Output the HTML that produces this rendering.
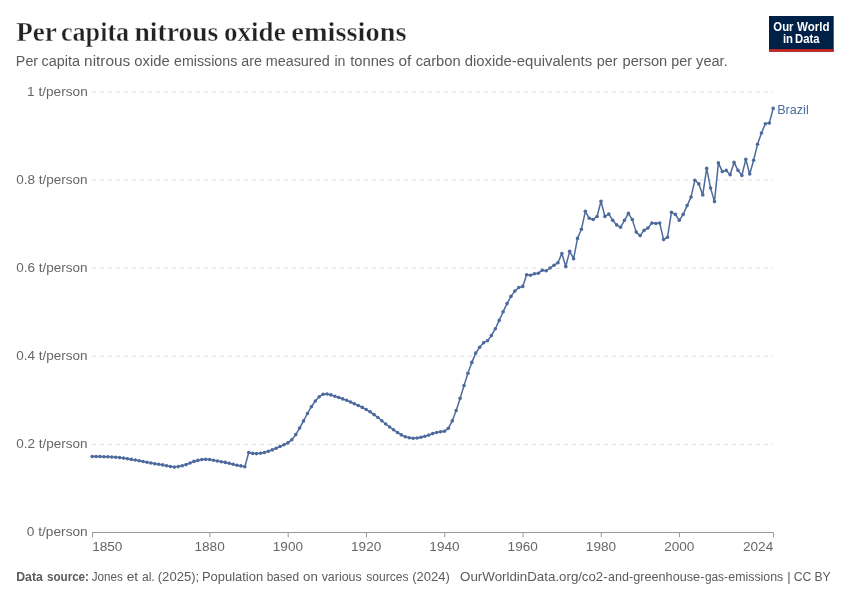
<!DOCTYPE html>
<html lang="en"><head><meta charset="utf-8"><title>Per capita nitrous oxide emissions</title>
<style>
html,body{margin:0;padding:0;background:#fff;}
body{width:850px;height:600px;overflow:hidden;}
svg{display:block;}
text{font-family:"Liberation Sans",sans-serif;}
.title{font-family:"Liberation Serif",serif;font-weight:bold;font-size:28px;fill:#222;stroke:#fff;stroke-width:0.4px;}
.sub{font-size:14px;fill:#5b5b5b;}
.foot{font-size:13px;fill:#5b5b5b;}
.b{font-weight:bold;}
.ax{font-size:13px;fill:#666;}
.lg{font-size:12.1px;font-weight:bold;fill:#fff;}
.ent{font-size:12.9px;fill:#4c6a9c;}
.grid line{stroke:#ddd;stroke-width:1;stroke-dasharray:4 4;}
.ticks line{stroke:#999;stroke-width:1;}
</style></head><body>
<svg width="850" height="600" viewBox="0 0 850 600" role="img" aria-label="Per capita nitrous oxide emissions, Brazil, 1850 to 2024">
<rect width="850" height="600" fill="#fff"/>
<rect x="769" y="16" width="64.7" height="35.7" fill="#002147"/>
<rect x="769" y="49.1" width="64.7" height="2.6" fill="#ce261e"/>
<g class="grid"><line x1="92" x2="773" y1="444.32" y2="444.32"/><line x1="92" x2="773" y1="356.23" y2="356.23"/><line x1="92" x2="773" y1="268.14" y2="268.14"/><line x1="92" x2="773" y1="180.05" y2="180.05"/><line x1="92" x2="773" y1="91.96" y2="91.96"/></g>
<g class="ticks"><line x1="92" x2="773.5" y1="532.5" y2="532.5"/><line x1="92.50" x2="92.50" y1="532.5" y2="537.4"/><line x1="209.91" x2="209.91" y1="532.5" y2="537.4"/><line x1="288.19" x2="288.19" y1="532.5" y2="537.4"/><line x1="366.47" x2="366.47" y1="532.5" y2="537.4"/><line x1="444.74" x2="444.74" y1="532.5" y2="537.4"/><line x1="523.02" x2="523.02" y1="532.5" y2="537.4"/><line x1="601.29" x2="601.29" y1="532.5" y2="537.4"/><line x1="679.57" x2="679.57" y1="532.5" y2="537.4"/><line x1="773.50" x2="773.50" y1="532.5" y2="537.4"/></g>
<g class="series">
<path d="M92.20,456.50 L96.11,456.50 L100.03,456.55 L103.94,456.70 L107.86,456.80 L111.77,457.00 L115.68,457.30 L119.60,457.60 L123.51,458.10 L127.42,458.70 L131.34,459.40 L135.25,460.00 L139.17,460.75 L143.08,461.50 L146.99,462.20 L150.91,463.00 L154.82,463.70 L158.73,464.30 L162.65,464.90 L166.56,465.80 L170.48,466.50 L174.39,467.10 L178.30,466.60 L182.22,465.70 L186.13,464.60 L190.04,463.00 L193.96,461.40 L197.87,460.40 L201.79,459.50 L205.70,459.20 L209.61,459.50 L213.53,460.20 L217.44,461.00 L221.36,461.70 L225.27,462.40 L229.18,463.20 L233.10,464.30 L237.01,465.20 L240.92,465.90 L244.84,466.80 L248.75,452.50 L252.67,453.40 L256.58,453.60 L260.49,453.30 L264.41,452.50 L268.32,451.30 L272.23,449.90 L276.15,448.20 L280.06,446.50 L283.98,444.70 L287.89,442.90 L291.80,439.70 L295.72,434.60 L299.63,428.10 L303.54,420.90 L307.46,413.50 L311.37,406.70 L315.29,401.00 L319.20,396.70 L323.11,394.20 L327.03,394.00 L330.94,394.90 L334.86,396.20 L338.77,397.50 L342.68,398.90 L346.60,400.30 L350.51,402.00 L354.42,403.70 L358.34,405.50 L362.25,407.40 L366.17,409.50 L370.08,411.80 L373.99,414.60 L377.91,417.50 L381.82,420.80 L385.73,424.00 L389.65,427.00 L393.56,429.80 L397.48,432.50 L401.39,434.90 L405.30,436.70 L409.22,437.70 L413.13,438.20 L417.04,438.00 L420.96,437.20 L424.87,436.30 L428.79,435.10 L432.70,433.60 L436.61,432.50 L440.53,431.80 L444.44,431.20 L448.36,428.30 L452.27,420.90 L456.18,410.50 L460.10,398.40 L464.01,385.60 L467.92,373.30 L471.84,362.40 L475.75,353.10 L479.67,347.20 L483.58,342.70 L487.49,340.70 L491.41,335.60 L495.32,328.70 L499.23,320.40 L503.15,311.70 L507.06,303.60 L510.98,296.40 L514.89,291.10 L518.80,287.50 L522.72,286.40 L526.63,274.70 L530.54,275.20 L534.46,273.70 L538.37,273.20 L542.29,270.30 L546.20,270.70 L550.11,268.00 L554.03,265.30 L557.94,262.70 L561.86,253.50 L565.77,266.40 L569.68,251.30 L573.60,258.70 L577.51,238.40 L581.42,229.30 L585.34,211.30 L589.25,218.30 L593.17,219.50 L597.08,216.50 L600.99,201.30 L604.91,216.40 L608.82,214.10 L612.73,220.30 L616.65,224.90 L620.56,227.30 L624.48,220.30 L628.39,213.40 L632.30,219.60 L636.22,232.10 L640.13,235.60 L644.04,230.40 L647.96,228.00 L651.87,223.10 L655.79,223.50 L659.70,223.10 L663.61,239.60 L667.53,237.20 L671.44,212.30 L675.36,214.40 L679.27,220.30 L683.18,214.40 L687.10,205.60 L691.01,197.10 L694.92,180.20 L698.84,183.90 L702.75,194.90 L706.67,168.40 L710.58,188.10 L714.49,201.60 L718.41,162.90 L722.32,171.60 L726.23,170.40 L730.15,174.70 L734.06,162.40 L737.98,170.30 L741.89,175.50 L745.80,159.40 L749.72,174.00 L753.63,160.20 L757.54,144.30 L761.46,133.00 L765.37,123.70 L769.29,123.10 L773.20,108.40" fill="none" stroke="#4c6a9c" stroke-width="1.5" stroke-linejoin="round" stroke-linecap="round"/>
<g fill="#4c6a9c"><circle cx="92.20" cy="456.50" r="1.8"/><circle cx="96.11" cy="456.50" r="1.8"/><circle cx="100.03" cy="456.55" r="1.8"/><circle cx="103.94" cy="456.70" r="1.8"/><circle cx="107.86" cy="456.80" r="1.8"/><circle cx="111.77" cy="457.00" r="1.8"/><circle cx="115.68" cy="457.30" r="1.8"/><circle cx="119.60" cy="457.60" r="1.8"/><circle cx="123.51" cy="458.10" r="1.8"/><circle cx="127.42" cy="458.70" r="1.8"/><circle cx="131.34" cy="459.40" r="1.8"/><circle cx="135.25" cy="460.00" r="1.8"/><circle cx="139.17" cy="460.75" r="1.8"/><circle cx="143.08" cy="461.50" r="1.8"/><circle cx="146.99" cy="462.20" r="1.8"/><circle cx="150.91" cy="463.00" r="1.8"/><circle cx="154.82" cy="463.70" r="1.8"/><circle cx="158.73" cy="464.30" r="1.8"/><circle cx="162.65" cy="464.90" r="1.8"/><circle cx="166.56" cy="465.80" r="1.8"/><circle cx="170.48" cy="466.50" r="1.8"/><circle cx="174.39" cy="467.10" r="1.8"/><circle cx="178.30" cy="466.60" r="1.8"/><circle cx="182.22" cy="465.70" r="1.8"/><circle cx="186.13" cy="464.60" r="1.8"/><circle cx="190.04" cy="463.00" r="1.8"/><circle cx="193.96" cy="461.40" r="1.8"/><circle cx="197.87" cy="460.40" r="1.8"/><circle cx="201.79" cy="459.50" r="1.8"/><circle cx="205.70" cy="459.20" r="1.8"/><circle cx="209.61" cy="459.50" r="1.8"/><circle cx="213.53" cy="460.20" r="1.8"/><circle cx="217.44" cy="461.00" r="1.8"/><circle cx="221.36" cy="461.70" r="1.8"/><circle cx="225.27" cy="462.40" r="1.8"/><circle cx="229.18" cy="463.20" r="1.8"/><circle cx="233.10" cy="464.30" r="1.8"/><circle cx="237.01" cy="465.20" r="1.8"/><circle cx="240.92" cy="465.90" r="1.8"/><circle cx="244.84" cy="466.80" r="1.8"/><circle cx="248.75" cy="452.50" r="1.8"/><circle cx="252.67" cy="453.40" r="1.8"/><circle cx="256.58" cy="453.60" r="1.8"/><circle cx="260.49" cy="453.30" r="1.8"/><circle cx="264.41" cy="452.50" r="1.8"/><circle cx="268.32" cy="451.30" r="1.8"/><circle cx="272.23" cy="449.90" r="1.8"/><circle cx="276.15" cy="448.20" r="1.8"/><circle cx="280.06" cy="446.50" r="1.8"/><circle cx="283.98" cy="444.70" r="1.8"/><circle cx="287.89" cy="442.90" r="1.8"/><circle cx="291.80" cy="439.70" r="1.8"/><circle cx="295.72" cy="434.60" r="1.8"/><circle cx="299.63" cy="428.10" r="1.8"/><circle cx="303.54" cy="420.90" r="1.8"/><circle cx="307.46" cy="413.50" r="1.8"/><circle cx="311.37" cy="406.70" r="1.8"/><circle cx="315.29" cy="401.00" r="1.8"/><circle cx="319.20" cy="396.70" r="1.8"/><circle cx="323.11" cy="394.20" r="1.8"/><circle cx="327.03" cy="394.00" r="1.8"/><circle cx="330.94" cy="394.90" r="1.8"/><circle cx="334.86" cy="396.20" r="1.8"/><circle cx="338.77" cy="397.50" r="1.8"/><circle cx="342.68" cy="398.90" r="1.8"/><circle cx="346.60" cy="400.30" r="1.8"/><circle cx="350.51" cy="402.00" r="1.8"/><circle cx="354.42" cy="403.70" r="1.8"/><circle cx="358.34" cy="405.50" r="1.8"/><circle cx="362.25" cy="407.40" r="1.8"/><circle cx="366.17" cy="409.50" r="1.8"/><circle cx="370.08" cy="411.80" r="1.8"/><circle cx="373.99" cy="414.60" r="1.8"/><circle cx="377.91" cy="417.50" r="1.8"/><circle cx="381.82" cy="420.80" r="1.8"/><circle cx="385.73" cy="424.00" r="1.8"/><circle cx="389.65" cy="427.00" r="1.8"/><circle cx="393.56" cy="429.80" r="1.8"/><circle cx="397.48" cy="432.50" r="1.8"/><circle cx="401.39" cy="434.90" r="1.8"/><circle cx="405.30" cy="436.70" r="1.8"/><circle cx="409.22" cy="437.70" r="1.8"/><circle cx="413.13" cy="438.20" r="1.8"/><circle cx="417.04" cy="438.00" r="1.8"/><circle cx="420.96" cy="437.20" r="1.8"/><circle cx="424.87" cy="436.30" r="1.8"/><circle cx="428.79" cy="435.10" r="1.8"/><circle cx="432.70" cy="433.60" r="1.8"/><circle cx="436.61" cy="432.50" r="1.8"/><circle cx="440.53" cy="431.80" r="1.8"/><circle cx="444.44" cy="431.20" r="1.8"/><circle cx="448.36" cy="428.30" r="1.8"/><circle cx="452.27" cy="420.90" r="1.8"/><circle cx="456.18" cy="410.50" r="1.8"/><circle cx="460.10" cy="398.40" r="1.8"/><circle cx="464.01" cy="385.60" r="1.8"/><circle cx="467.92" cy="373.30" r="1.8"/><circle cx="471.84" cy="362.40" r="1.8"/><circle cx="475.75" cy="353.10" r="1.8"/><circle cx="479.67" cy="347.20" r="1.8"/><circle cx="483.58" cy="342.70" r="1.8"/><circle cx="487.49" cy="340.70" r="1.8"/><circle cx="491.41" cy="335.60" r="1.8"/><circle cx="495.32" cy="328.70" r="1.8"/><circle cx="499.23" cy="320.40" r="1.8"/><circle cx="503.15" cy="311.70" r="1.8"/><circle cx="507.06" cy="303.60" r="1.8"/><circle cx="510.98" cy="296.40" r="1.8"/><circle cx="514.89" cy="291.10" r="1.8"/><circle cx="518.80" cy="287.50" r="1.8"/><circle cx="522.72" cy="286.40" r="1.8"/><circle cx="526.63" cy="274.70" r="1.8"/><circle cx="530.54" cy="275.20" r="1.8"/><circle cx="534.46" cy="273.70" r="1.8"/><circle cx="538.37" cy="273.20" r="1.8"/><circle cx="542.29" cy="270.30" r="1.8"/><circle cx="546.20" cy="270.70" r="1.8"/><circle cx="550.11" cy="268.00" r="1.8"/><circle cx="554.03" cy="265.30" r="1.8"/><circle cx="557.94" cy="262.70" r="1.8"/><circle cx="561.86" cy="253.50" r="1.8"/><circle cx="565.77" cy="266.40" r="1.8"/><circle cx="569.68" cy="251.30" r="1.8"/><circle cx="573.60" cy="258.70" r="1.8"/><circle cx="577.51" cy="238.40" r="1.8"/><circle cx="581.42" cy="229.30" r="1.8"/><circle cx="585.34" cy="211.30" r="1.8"/><circle cx="589.25" cy="218.30" r="1.8"/><circle cx="593.17" cy="219.50" r="1.8"/><circle cx="597.08" cy="216.50" r="1.8"/><circle cx="600.99" cy="201.30" r="1.8"/><circle cx="604.91" cy="216.40" r="1.8"/><circle cx="608.82" cy="214.10" r="1.8"/><circle cx="612.73" cy="220.30" r="1.8"/><circle cx="616.65" cy="224.90" r="1.8"/><circle cx="620.56" cy="227.30" r="1.8"/><circle cx="624.48" cy="220.30" r="1.8"/><circle cx="628.39" cy="213.40" r="1.8"/><circle cx="632.30" cy="219.60" r="1.8"/><circle cx="636.22" cy="232.10" r="1.8"/><circle cx="640.13" cy="235.60" r="1.8"/><circle cx="644.04" cy="230.40" r="1.8"/><circle cx="647.96" cy="228.00" r="1.8"/><circle cx="651.87" cy="223.10" r="1.8"/><circle cx="655.79" cy="223.50" r="1.8"/><circle cx="659.70" cy="223.10" r="1.8"/><circle cx="663.61" cy="239.60" r="1.8"/><circle cx="667.53" cy="237.20" r="1.8"/><circle cx="671.44" cy="212.30" r="1.8"/><circle cx="675.36" cy="214.40" r="1.8"/><circle cx="679.27" cy="220.30" r="1.8"/><circle cx="683.18" cy="214.40" r="1.8"/><circle cx="687.10" cy="205.60" r="1.8"/><circle cx="691.01" cy="197.10" r="1.8"/><circle cx="694.92" cy="180.20" r="1.8"/><circle cx="698.84" cy="183.90" r="1.8"/><circle cx="702.75" cy="194.90" r="1.8"/><circle cx="706.67" cy="168.40" r="1.8"/><circle cx="710.58" cy="188.10" r="1.8"/><circle cx="714.49" cy="201.60" r="1.8"/><circle cx="718.41" cy="162.90" r="1.8"/><circle cx="722.32" cy="171.60" r="1.8"/><circle cx="726.23" cy="170.40" r="1.8"/><circle cx="730.15" cy="174.70" r="1.8"/><circle cx="734.06" cy="162.40" r="1.8"/><circle cx="737.98" cy="170.30" r="1.8"/><circle cx="741.89" cy="175.50" r="1.8"/><circle cx="745.80" cy="159.40" r="1.8"/><circle cx="749.72" cy="174.00" r="1.8"/><circle cx="753.63" cy="160.20" r="1.8"/><circle cx="757.54" cy="144.30" r="1.8"/><circle cx="761.46" cy="133.00" r="1.8"/><circle cx="765.37" cy="123.70" r="1.8"/><circle cx="769.29" cy="123.10" r="1.8"/><circle cx="773.20" cy="108.40" r="1.8"/></g>
</g>
<text class="ax" x="92.20" y="550.7" text-anchor="start" textLength="30.2" lengthAdjust="spacingAndGlyphs">1850</text><text class="ax" x="209.61" y="550.7" text-anchor="middle" textLength="30.2" lengthAdjust="spacingAndGlyphs">1880</text><text class="ax" x="287.89" y="550.7" text-anchor="middle" textLength="30.2" lengthAdjust="spacingAndGlyphs">1900</text><text class="ax" x="366.17" y="550.7" text-anchor="middle" textLength="30.2" lengthAdjust="spacingAndGlyphs">1920</text><text class="ax" x="444.44" y="550.7" text-anchor="middle" textLength="30.2" lengthAdjust="spacingAndGlyphs">1940</text><text class="ax" x="522.72" y="550.7" text-anchor="middle" textLength="30.2" lengthAdjust="spacingAndGlyphs">1960</text><text class="ax" x="600.99" y="550.7" text-anchor="middle" textLength="30.2" lengthAdjust="spacingAndGlyphs">1980</text><text class="ax" x="679.27" y="550.7" text-anchor="middle" textLength="30.2" lengthAdjust="spacingAndGlyphs">2000</text><text class="ax" x="773.20" y="550.7" text-anchor="end" textLength="30.2" lengthAdjust="spacingAndGlyphs">2024</text>
<text class="title" y="40.70"><tspan x="16.22" textLength="40.17" lengthAdjust="spacingAndGlyphs">Per</tspan> <tspan x="60.97" textLength="68.20" lengthAdjust="spacingAndGlyphs">capita</tspan> <tspan x="134.52" textLength="83.80" lengthAdjust="spacingAndGlyphs">nitrous</tspan> <tspan x="224.09" textLength="61.56" lengthAdjust="spacingAndGlyphs">oxide</tspan> <tspan x="291.29" textLength="115.26" lengthAdjust="spacingAndGlyphs">emissions</tspan></text>
<text class="sub" y="66.20"><tspan x="15.88" textLength="22.27" lengthAdjust="spacingAndGlyphs">Per</tspan> <tspan x="41.59" textLength="38.37" lengthAdjust="spacingAndGlyphs">capita</tspan> <tspan x="84.10" textLength="46.18" lengthAdjust="spacingAndGlyphs">nitrous</tspan> <tspan x="134.37" textLength="35.32" lengthAdjust="spacingAndGlyphs">oxide</tspan> <tspan x="174.09" textLength="63.22" lengthAdjust="spacingAndGlyphs">emissions</tspan> <tspan x="241.29" textLength="20.60" lengthAdjust="spacingAndGlyphs">are</tspan> <tspan x="265.67" textLength="64.02" lengthAdjust="spacingAndGlyphs">measured</tspan> <tspan x="334.44" textLength="11.08" lengthAdjust="spacingAndGlyphs">in</tspan> <tspan x="350.24" textLength="44.14" lengthAdjust="spacingAndGlyphs">tonnes</tspan> <tspan x="398.45" textLength="12.88" lengthAdjust="spacingAndGlyphs">of</tspan> <tspan x="415.67" textLength="44.98" lengthAdjust="spacingAndGlyphs">carbon</tspan> <tspan x="464.67" textLength="127.51" lengthAdjust="spacingAndGlyphs">dioxide-equivalents</tspan> <tspan x="596.83" textLength="20.71" lengthAdjust="spacingAndGlyphs">per</tspan> <tspan x="622.52" textLength="44.73" lengthAdjust="spacingAndGlyphs">person</tspan> <tspan x="671.34" textLength="20.60" lengthAdjust="spacingAndGlyphs">per</tspan> <tspan x="696.10" textLength="31.62" lengthAdjust="spacingAndGlyphs">year.</tspan></text>
<text class="foot b" y="580.80"><tspan x="16.19" textLength="26.75" lengthAdjust="spacingAndGlyphs">Data</tspan> <tspan x="46.95" textLength="42.04" lengthAdjust="spacingAndGlyphs">source:</tspan></text>
<text class="foot" y="580.80"><tspan x="91.68" textLength="31.13" lengthAdjust="spacingAndGlyphs">Jones</tspan> <tspan x="126.67" textLength="11.43" lengthAdjust="spacingAndGlyphs">et</tspan> <tspan x="141.93" textLength="12.82" lengthAdjust="spacingAndGlyphs">al.</tspan> <tspan x="157.75" textLength="41.47" lengthAdjust="spacingAndGlyphs">(2025);</tspan> <tspan x="202.01" textLength="61.09" lengthAdjust="spacingAndGlyphs">Population</tspan> <tspan x="266.72" textLength="32.30" lengthAdjust="spacingAndGlyphs">based</tspan> <tspan x="303.09" textLength="14.74" lengthAdjust="spacingAndGlyphs">on</tspan> <tspan x="321.70" textLength="39.90" lengthAdjust="spacingAndGlyphs">various</tspan> <tspan x="366.17" textLength="42.33" lengthAdjust="spacingAndGlyphs">sources</tspan> <tspan x="412.25" textLength="37.58" lengthAdjust="spacingAndGlyphs">(2024)</tspan></text>
<text class="foot" y="580.80"><tspan x="460.09" textLength="122.00" lengthAdjust="spacingAndGlyphs">OurWorldinData.org/</tspan> <tspan x="581.89" textLength="25.77" lengthAdjust="spacingAndGlyphs">co2-</tspan> <tspan x="608.12" textLength="24.99" lengthAdjust="spacingAndGlyphs">and-</tspan> <tspan x="633.21" textLength="71.17" lengthAdjust="spacingAndGlyphs">greenhouse-</tspan> <tspan x="704.94" textLength="23.05" lengthAdjust="spacingAndGlyphs">gas-</tspan> <tspan x="728.32" textLength="54.96" lengthAdjust="spacingAndGlyphs">emissions</tspan> <tspan x="787.33" textLength="3.39" lengthAdjust="spacingAndGlyphs">|</tspan> <tspan x="793.73" textLength="17.56" lengthAdjust="spacingAndGlyphs">CC</tspan> <tspan x="814.46" textLength="16.26" lengthAdjust="spacingAndGlyphs">BY</tspan></text>
<text class="lg" y="30.50"><tspan x="773.33" textLength="20.18" lengthAdjust="spacingAndGlyphs">Our</tspan> <tspan x="797.00" textLength="32.46" lengthAdjust="spacingAndGlyphs">World</tspan></text>
<text class="lg" y="42.50"><tspan x="782.89" textLength="10.11" lengthAdjust="spacingAndGlyphs">in</tspan> <tspan x="795.10" textLength="24.44" lengthAdjust="spacingAndGlyphs">Data</tspan></text>
<text class="ent" y="113.80"><tspan x="777.22" textLength="31.49" lengthAdjust="spacingAndGlyphs">Brazil</tspan></text>
<text class="ax" y="536.45"><tspan x="26.77" textLength="61.00" lengthAdjust="spacingAndGlyphs">0 t/person</tspan></text>
<text class="ax" y="448.36"><tspan x="16.18" textLength="71.40" lengthAdjust="spacingAndGlyphs">0.2 t/person</tspan></text>
<text class="ax" y="360.27"><tspan x="16.18" textLength="71.40" lengthAdjust="spacingAndGlyphs">0.4 t/person</tspan></text>
<text class="ax" y="272.18"><tspan x="16.18" textLength="71.40" lengthAdjust="spacingAndGlyphs">0.6 t/person</tspan></text>
<text class="ax" y="184.09"><tspan x="16.18" textLength="71.40" lengthAdjust="spacingAndGlyphs">0.8 t/person</tspan></text>
<text class="ax" y="96.00"><tspan x="27.05" textLength="60.72" lengthAdjust="spacingAndGlyphs">1 t/person</tspan></text>

</svg>
</body></html>
